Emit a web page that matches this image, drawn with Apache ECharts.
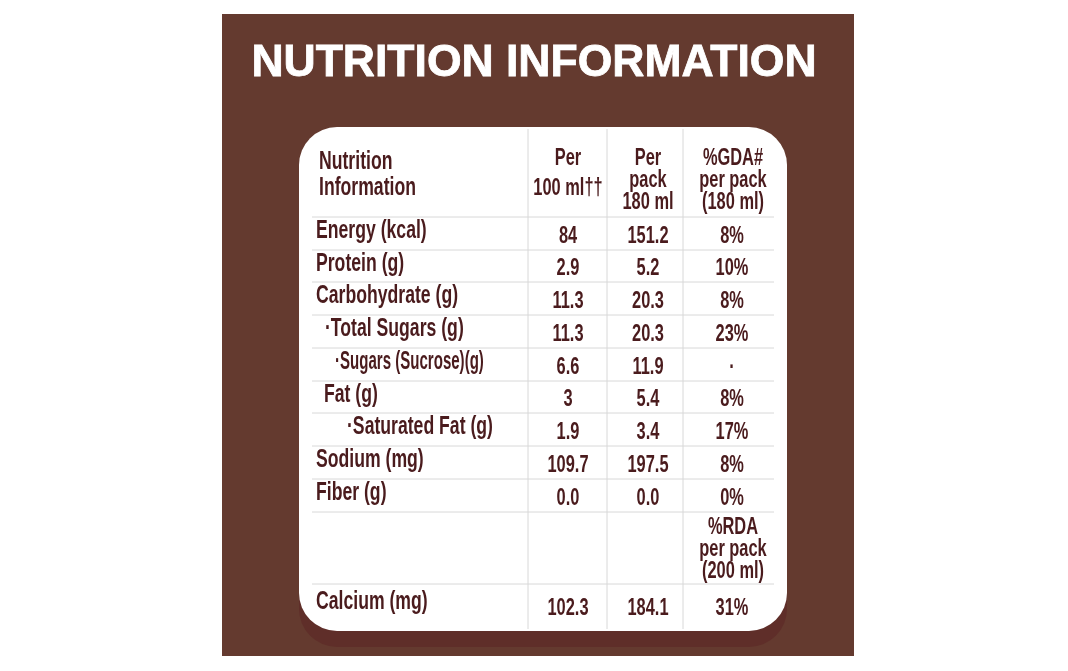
<![CDATA[<!DOCTYPE html>
<html>
<head>
  <meta charset="utf-8">
  <title>Nutrition Information</title>
  <script src="https://cdn.jsdelivr.net/npm/echarts@6/dist/echarts.min.js"></script>
  <style>
    html, body { margin: 0; padding: 0; background: #fff; }
    #chart { width: 1068px; height: 671px; }
  </style>
</head>
<body>
<div id="chart"></div>
<script>
  // table content
  var headerCells = ['Nutrition\nInformation', 'Per\n100 ml††', 'Per\npack\n180 ml', '%GDA#\nper pack\n(180 ml)'];
  var rowLabels = ['Energy (kcal)', 'Protein (g)', 'Carbohydrate (g)', '·Total Sugars (g)', '·Sugars (Sucrose)(g)',
    'Fat (g)', '·Saturated Fat (g)', 'Sodium (mg)', 'Fiber (g)'];
  var per100ml = ['84', '2.9', '11.3', '11.3', '6.6', '3', '1.9', '109.7', '0.0'];
  var perPack = ['151.2', '5.2', '20.3', '20.3', '11.9', '5.4', '3.4', '197.5', '0.0'];
  var gdaPercent = ['8%', '10%', '8%', '23%', '·', '8%', '17%', '8%', '0%'];
  var rdaHeader = '%RDA\nper pack\n(200 ml)';
  var calcium = ['Calcium (mg)', '102.3', '184.1', '31%'];

  // layout, in axis units (the axes run 1:1 with the pixels)
  var rowEdges = [127, 217, 250, 282, 315, 348, 381, 413, 446, 479, 512, 584, 631];
  var colEdges = [528, 607, 683];
  var colCenters = [568, 648, 732];
  var ruleLeft = 312, ruleRight = 774;
  var labelX = [316, 316, 316, 325, 335, 324, 347, 316, 316];
  var labelSqueeze = [0.82, 0.82, 0.82, 0.82, 0.7, 0.82, 0.82, 0.82, 0.82];
  var headerX = [319, 568, 648, 733];
  var headerY = [175, 173, 180, 180];
  var headerLine = [22, 25, 18.3, 18.3];
  var textColor = '#4a1b1d';

  var cells = [];
  headerCells.forEach(function (t, i) {
    cells.push([headerX[i], headerY[i], t, i === 0 ? 'left' : 'center', i === 0 ? 21.5 : 20, headerLine[i], 0.82]);
  });
  rowLabels.forEach(function (t, i) {
    var mid = (rowEdges[i + 1] + rowEdges[i + 2]) / 2;
    cells.push([labelX[i], mid - 2.5, t, 'left', 21.5, 22, labelSqueeze[i]]);
    cells.push([colCenters[0], mid + 2.5, per100ml[i], 'center', 20, 22, 0.82]);
    cells.push([colCenters[1], mid + 2.5, perPack[i], 'center', 20, 22, 0.82]);
    cells.push([colCenters[2], mid + 2.5, gdaPercent[i], 'center', 20, 22, 0.82]);
  });
  cells.push([colCenters[2] + 1, (rowEdges[10] + rowEdges[11]) / 2 + 1, rdaHeader, 'center', 20, 18.3, 0.82]);
  var calMid = (rowEdges[11] + rowEdges[12]) / 2;
  cells.push([316, calMid - 6, calcium[0], 'left', 21.5, 22, 0.82]);
  cells.push([colCenters[0], calMid + 1, calcium[1], 'center', 20, 22, 0.82]);
  cells.push([colCenters[1], calMid + 1, calcium[2], 'center', 20, 22, 0.82]);
  cells.push([colCenters[2], calMid + 1, calcium[3], 'center', 20, 22, 0.82]);

  // x1, y1, x2, y2 of each rule
  var rules = [];
  rowEdges.slice(1, -1).forEach(function (y) { rules.push([ruleLeft, y, ruleRight, y]); });
  colEdges.forEach(function (x) { rules.push([x, rowEdges[0] + 2, x, rowEdges[12] - 2]); });

  var chart = echarts.init(document.getElementById('chart'));
  chart.setOption({
    animation: false,
    title: {
      text: 'NUTRITION INFORMATION',
      left: 529,
      top: 36,
      textAlign: 'center',
      textStyle: {
        fontFamily: '"Liberation Sans"',
        fontWeight: 'bold',
        fontSize: 44.5,
        color: '#fff',
        textBorderColor: '#fff',
        textBorderWidth: 0.8
      }
    },
    grid: {left: 299, top: 127, width: 488, height: 504},
    xAxis: {type: 'value', min: 299, max: 787, show: false},
    yAxis: {type: 'value', min: 127, max: 631, inverse: true, show: false},
    graphic: [
      {type: 'rect', z: -3, shape: {x: 222, y: 14, width: 632, height: 642}, style: {fill: '#643a2f'}},
      {type: 'rect', z: -2, shape: {x: 299, y: 560, width: 488, height: 87, r: 38}, style: {fill: '#5f2e29'}},
      {type: 'rect', z: -1, shape: {x: 299, y: 127, width: 488, height: 504, r: 38}, style: {fill: '#fff'}}
    ],
    series: [
      {
        type: 'custom',
        coordinateSystem: 'cartesian2d',
        silent: true,
        clip: false,
        data: rules,
        encode: {x: [0, 2], y: [1, 3]},
        renderItem: function (params, api) {
          var a = api.coord([api.value(0), api.value(1)]);
          var b = api.coord([api.value(2), api.value(3)]);
          return {
            type: 'line',
            shape: {x1: a[0], y1: a[1], x2: b[0], y2: b[1]},
            style: {stroke: '#d8d8d8', lineWidth: 1}
          };
        }
      },
      {
        type: 'custom',
        coordinateSystem: 'cartesian2d',
        silent: true,
        clip: false,
        data: cells,
        encode: {x: 0, y: 1},
        renderItem: function (params, api) {
          var c = cells[params.dataIndex];
          var p = api.coord([c[0], c[1]]);
          return {
            type: 'text',
            x: p[0],
            y: p[1],
            scaleX: c[6],
            scaleY: 1.2,
            style: {
              text: c[2],
              x: 0,
              y: 0,
              align: c[3],
              verticalAlign: 'middle',
              fontFamily: '"Liberation Sans"',
              fontWeight: 'bold',
              fontSize: c[4],
              lineHeight: c[5],
              fill: textColor
            }
          };
        }
      }
    ]
  });
</script>
</body>
</html>
]]>
